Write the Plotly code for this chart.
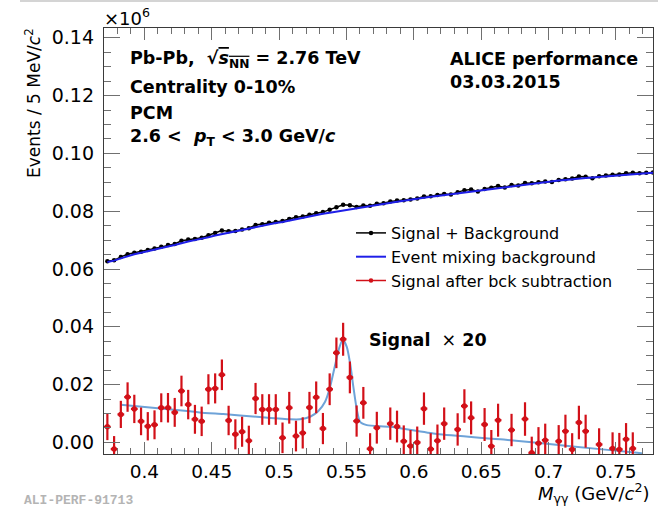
import plotly.graph_objects as go

# ---------------- data ----------------
bin_width = 0.005
x_first = 0.3725
n_bins = 82
mass = [round(x_first + i * bin_width, 4) for i in range(n_bins)]

sig_bkg = [0.0627, 0.0630, 0.0642, 0.0651, 0.0656, 0.0660, 0.0666, 0.0671, 0.0677, 0.0683,
           0.0687, 0.0698, 0.0702, 0.0704, 0.0708, 0.0717, 0.0725, 0.0733, 0.0731, 0.0732,
           0.0737, 0.0741, 0.0752, 0.0755, 0.0760, 0.0763, 0.0766, 0.0773, 0.0779, 0.0782,
           0.0788, 0.0793, 0.0797, 0.0805, 0.0814, 0.0822, 0.0821, 0.0815, 0.0820, 0.0819,
           0.0826, 0.0828, 0.0834, 0.0837, 0.0838, 0.0841, 0.0844, 0.0851, 0.0852, 0.0856,
           0.0860, 0.0858, 0.0866, 0.0873, 0.0875, 0.0868, 0.0877, 0.0881, 0.0887, 0.0882,
           0.0891, 0.0889, 0.0898, 0.0897, 0.0900, 0.0903, 0.0901, 0.0908, 0.0911, 0.0913,
           0.0920, 0.0919, 0.0914, 0.0921, 0.0924, 0.0926, 0.0927, 0.0931, 0.0933, 0.0931,
           0.0933, 0.0934]

mixed_bkg = [0.0624, 0.0629, 0.0637, 0.0645, 0.0651, 0.0656, 0.0662, 0.0667, 0.0673, 0.0678,
             0.0683, 0.0690, 0.0695, 0.0700, 0.0704, 0.0710, 0.0716, 0.0721, 0.0725, 0.0730,
             0.0734, 0.0739, 0.0745, 0.0750, 0.0755, 0.0759, 0.0763, 0.0768, 0.0773, 0.0778,
             0.0782, 0.0787, 0.0791, 0.0795, 0.0799, 0.0803, 0.0807, 0.0811, 0.0815, 0.0818,
             0.0822, 0.0826, 0.0830, 0.0833, 0.0836, 0.0840, 0.0843, 0.0847, 0.0850, 0.0853,
             0.0856, 0.0859, 0.0863, 0.0866, 0.0869, 0.0872, 0.0875, 0.0878, 0.0881, 0.0884,
             0.0887, 0.0890, 0.0893, 0.0896, 0.0898, 0.0901, 0.0903, 0.0906, 0.0908, 0.0911,
             0.0913, 0.0915, 0.0917, 0.0919, 0.0921, 0.0923, 0.0925, 0.0927, 0.0929, 0.0930,
             0.0932, 0.0933]

# signal after background subtraction (x20); None = below the visible range
signal_x20 = [0.0054, -0.0023, 0.0097, 0.0157, 0.0116, 0.0073, 0.0056, 0.0061, 0.0120, 0.0120,
              0.0104, 0.0178, 0.0131, 0.0080, 0.0073, 0.0184, 0.0187, 0.0234, 0.0076, 0.0028,
              0.0037, 0.0006, 0.0152, 0.0114, 0.0114, 0.0114, 0.0016, 0.0120, 0.0022, 0.0033,
              0.0121, 0.0156, 0.0048, 0.0184, 0.0310, 0.0357, 0.0225, 0.0074, 0.0137, -0.0022,
              0.0051, None, 0.0065, 0.0055, 0.0004, -0.0012, 0.0000, 0.0117, -0.0023, 0.0006,
              0.0065, None, 0.0045, 0.0126, 0.0085, None, 0.0062, -0.0013, 0.0077, None,
              0.0043, None, 0.0081, -0.0036, -0.0003, 0.0008, None, 0.0004, 0.0039, -0.0024,
              0.0069, 0.0039, None, -0.0007, None, -0.0021, -0.0024, 0.0011, -0.0021, None,
              None, None]

signal_err = [0.0046, 0.0045, 0.0047, 0.0051, 0.0049, 0.0048, 0.0049, 0.0050, 0.0050, 0.0051,
              0.0050, 0.0053, 0.0051, 0.0050, 0.0051, 0.0052, 0.0052, 0.0053, 0.0051, 0.0052,
              0.0052, 0.0052, 0.0054, 0.0053, 0.0053, 0.0053, 0.0053, 0.0055, 0.0053, 0.0054,
              0.0054, 0.0055, 0.0054, 0.0055, 0.0053, 0.0057, 0.0055, 0.0054, 0.0055, 0.0054,
              0.0055, 0.0055, 0.0056, 0.0055, 0.0055, 0.0055, 0.0055, 0.0056, 0.0055, 0.0056,
              0.0056, 0.0056, 0.0056, 0.0058, 0.0057, 0.0056, 0.0057, 0.0056, 0.0057, 0.0056,
              0.0056, 0.0056, 0.0058, 0.0056, 0.0056, 0.0057, 0.0056, 0.0056, 0.0057, 0.0056,
              0.0058, 0.0057, 0.0056, 0.0056, 0.0056, 0.0056, 0.0057, 0.0056, 0.0056, 0.0056,
              0.0056, 0.0056]

fit_x = [0.3825, 0.4337, 0.4411, 0.4585, 0.4833, 0.5081, 0.5155, 0.5230, 0.5291, 0.5341,
         0.5378, 0.5415, 0.5445, 0.5472, 0.5502, 0.5527, 0.5551, 0.5577, 0.5601, 0.5651,
         0.5824, 0.6171, 0.6667, 0.7162, 0.7658, 0.7700]
fit_y = [0.0130, 0.0108, 0.0104, 0.0098, 0.0089, 0.0080, 0.0080, 0.0089, 0.0109, 0.0141,
         0.0192, 0.0267, 0.0325, 0.0356, 0.0331, 0.0273, 0.0192, 0.0112, 0.0071, 0.0060,
         0.0054, 0.0029, 0.0010, -0.0013, -0.0036, -0.0038]

x_ticks = [0.4, 0.45, 0.5, 0.55, 0.6, 0.65, 0.7, 0.75]
y_ticks = [0.00, 0.02, 0.04, 0.06, 0.08, 0.10, 0.12, 0.14]

# ---------------- styles ----------------
FONT = "DejaVu Sans"
RED = "rgb(210,16,24)"
BLACK = "#000000"
BLUE = "#1f1fe8"
LIGHTBLUE = "#6ea3d8"
AXIS = "#3a3a3a"
TICK = "#707070"

fig = go.Figure()

fig.add_trace(go.Scatter(
    x=mass, y=sig_bkg, mode="lines+markers", name="Signal + Background",
    line=dict(color=BLACK, width=1.5), marker=dict(color=BLACK, size=4.5)))

fig.add_trace(go.Scatter(
    x=mass, y=mixed_bkg, mode="lines", name="Event mixing background",
    line=dict(color=BLUE, width=2)))

fig.add_trace(go.Scatter(
    x=fit_x, y=fit_y, mode="lines", showlegend=False,
    line=dict(color=LIGHTBLUE, width=2, shape="spline", smoothing=0.6)))

fig.add_trace(go.Scatter(
    x=mass, y=signal_x20, mode="markers", showlegend=False,
    marker=dict(color=RED, size=5.5),
    error_y=dict(type="data", array=signal_err, color=RED, thickness=2.2, width=0),
    error_x=dict(type="constant", value=bin_width / 2, color=RED, thickness=2.2, width=0)))

# legend entry for the subtracted signal (line + marker sample as in the original)
fig.add_trace(go.Scatter(
    x=[None], y=[None], mode="lines+markers", name="Signal after bck subtraction",
    line=dict(color=RED, width=1.5), marker=dict(color=RED, size=4.5)))

axis_common = dict(
    showline=True, linecolor=AXIS, linewidth=1.3, mirror="ticks",
    ticks="inside", tickcolor=TICK, tickwidth=1.3,
    showgrid=False, zeroline=False,
)

fig.update_xaxes(
    range=[0.37, 0.7775], tickvals=x_ticks, ticktext=[f"{v:g}" for v in x_ticks],
    ticklen=12, ticklabelstandoff=1,
    tickfont=dict(family=FONT, size=18.5, color="#000"),
    minor=dict(ticks="inside", ticklen=6, dtick=0.01, tick0=0.4, tickcolor=TICK, tickwidth=1.3),
    **axis_common)
fig.update_yaxes(
    range=[-0.004, 0.1434], tickvals=y_ticks, ticktext=[f"{v:.2f}" for v in y_ticks],
    ticklen=16, ticklabelstandoff=5,
    tickfont=dict(family=FONT, size=19, color="#000"),
    minor=dict(ticks="inside", ticklen=7, dtick=0.005, tick0=0, tickcolor=TICK, tickwidth=1.3),
    **axis_common)

L, R, T, B = 104, 5, 28, 55
W, H = 658, 509
pw, ph = W - L - R, H - T - B


def px(xp):
    return (xp - L) / pw


def py(yp):
    return (H - B - yp) / ph


ann = []
bold = dict(family=FONT, size=17.5, color="#000")
ann.append(dict(x=px(128), y=py(60), xanchor="left", yanchor="middle",
                text="<b>Pb-Pb,  √<span style='text-decoration:overline'><i>s</i><sub>NN</sub></span> = 2.76 TeV</b>",
                font=bold))
ann.append(dict(x=px(128), y=py(87), xanchor="left", yanchor="middle",
                text="<b>Centrality 0-10%</b>", font=bold))
ann.append(dict(x=px(128), y=py(113), xanchor="left", yanchor="middle",
                text="<b>PCM</b>", font=bold))
ann.append(dict(x=px(128), y=py(137), xanchor="left", yanchor="middle",
                text="<b>2.6 <  <i>p</i><sub>T</sub> < 3.0 GeV/<i>c</i></b>", font=bold))
ann.append(dict(x=px(448), y=py(59), xanchor="left", yanchor="middle",
                text="<b>ALICE performance</b>", font=bold))
ann.append(dict(x=px(448), y=py(82), xanchor="left", yanchor="middle",
                text="<b>03.03.2015</b>", font=bold))
ann.append(dict(x=px(367), y=py(340), xanchor="left", yanchor="middle",
                text="<b>Signal</b>  ×<b> 20</b>", font=bold))
ann.append(dict(x=px(102), y=py(17), xanchor="left", yanchor="middle",
                text="×10<sup>6</sup>", font=dict(family=FONT, size=18, color="#000")))
ann.append(dict(x=px(33), y=py(103), xanchor="center", yanchor="middle", textangle=-90,
                text="Events / 5 MeV/<i>c</i><sup>2</sup>",
                font=dict(family=FONT, size=17, color="#000")))
ann.append(dict(x=px(652), y=py(493), xanchor="right", yanchor="middle",
                text="<i>M</i><sub>γγ</sub> (GeV/<i>c</i><sup>2</sup>)",
                font=dict(family=FONT, size=18, color="#000")))
ann.append(dict(x=px(22), y=py(501), xanchor="left", yanchor="middle",
                text="<b>ALI-PERF-91713</b>",
                font=dict(family="Liberation Mono", size=13, color="#b4b4b4")))
for a in ann:
    a.update(xref="paper", yref="paper", showarrow=False)

fig.update_layout(
    width=W, height=H,
    margin=dict(l=L, r=R, t=T, b=B),
    paper_bgcolor="white", plot_bgcolor="white",
    annotations=ann,
    showlegend=True,
    legend=dict(x=px(351), y=py(216), xanchor="left", yanchor="top",
                bgcolor="rgba(0,0,0,0)", font=dict(family=FONT, size=16, color="#000"),
                tracegroupgap=0, itemwidth=30),
    shapes=[dict(type="line", xref="paper", yref="paper",
                 x0=px(20), x1=px(658), y0=py(1), y1=py(1),
                 line=dict(color="#d4d4d4", width=2))],
)

fig.write_html("out.html")
